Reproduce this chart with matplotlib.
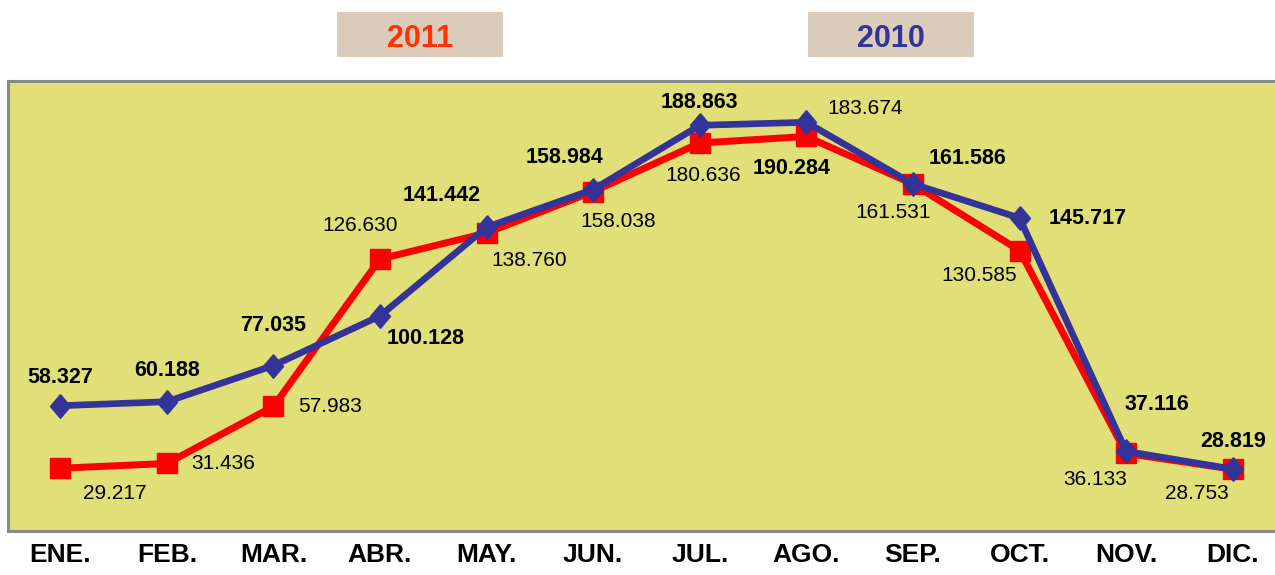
import matplotlib.pyplot as plt
from matplotlib.patches import Rectangle

months = ["ENE.", "FEB.", "MAR.", "ABR.", "MAY.", "JUN.",
          "JUL.", "AGO.", "SEP.", "OCT.", "NOV.", "DIC."]
values_2011 = [29.217, 31.436, 57.983, 126.630, 138.760, 158.038,
               180.636, 183.674, 161.531, 130.585, 36.133, 28.753]
values_2010 = [58.327, 60.188, 77.035, 100.128, 141.442, 158.984,
               188.863, 190.284, 161.586, 145.717, 37.116, 28.819]

# label offsets in pixels (dx, dy) relative to each point
off_2011 = [(55, -25), (56, 0), (57, 0), (-20, 34), (43, -28), (25, -30),
            (3, -33), (59, 28), (-20, -28), (-40, -25), (-31, -26), (-36, -24)]
off_2010 = [(0, 28), (0, 31), (0, 40), (46, -23), (-45, 32), (-29, 32),
            (0, 23), (-15, -46), (55, 25), (68, 0), (31, 47), (0, 28)]

RED = "#FF0000"
BLUE = "#333399"

plt.rcParams["font.family"] = ["Liberation Sans", "DejaVu Sans"]

fig = plt.figure(figsize=(12.75, 5.75), dpi=100)
ax = fig.add_axes([8 / 1275, 44 / 575, 1278 / 1275, 450 / 575])
ax.set_facecolor("#E0DF78")

# slightly tall diamond, like the original
diamond = [(0, 1), (0.85, 0), (0, -1), (-0.85, 0), (0, 1)]

x = list(range(len(months)))
ax.plot(x, values_2011, color=RED, lw=5, marker="s", ms=15,
        mfc=RED, mec=RED, zorder=3)
ax.plot(x, values_2010, color=BLUE, lw=4.8, marker=diamond, ms=17,
        mfc=BLUE, mec=BLUE, zorder=4)

def fmt(v):
    return f"{v:.3f}"

for i, v in enumerate(values_2011):
    ax.annotate(fmt(v), (i, v), xytext=off_2011[i], textcoords="offset pixels",
                ha="center", va="center", fontsize=15, color="black", zorder=5)
for i, v in enumerate(values_2010):
    ax.annotate(fmt(v), (i, v), xytext=off_2010[i], textcoords="offset pixels",
                ha="center", va="center", fontsize=15.5, fontweight="bold",
                color="black", zorder=5)

ax.set_xlim(-0.49, 11.5)
ax.set_ylim(0, 209.5)
ax.set_yticks([])
ax.set_xticks(x)
ax.set_xticklabels(months, fontsize=19, fontweight="bold")
ax.tick_params(axis="x", length=0, pad=9)
for s in ax.spines.values():
    s.set_color("#8A8A8A")
    s.set_linewidth(2.2)

# legend boxes at the top
for x0, label, col in [(337, "2011", "#FF3300"), (808, "2010", BLUE)]:
    fig.patches.append(Rectangle((x0 / 1275, 518 / 575), 166 / 1275, 45 / 575,
                                 transform=fig.transFigure, fc="#DBCBBB",
                                 ec="none"))
    fig.text((x0 + 83) / 1275, 1 - 39 / 575, label, ha="center", va="center",
             fontsize=22, fontweight="bold", color=col)

fig.savefig("out.png", dpi=100)
